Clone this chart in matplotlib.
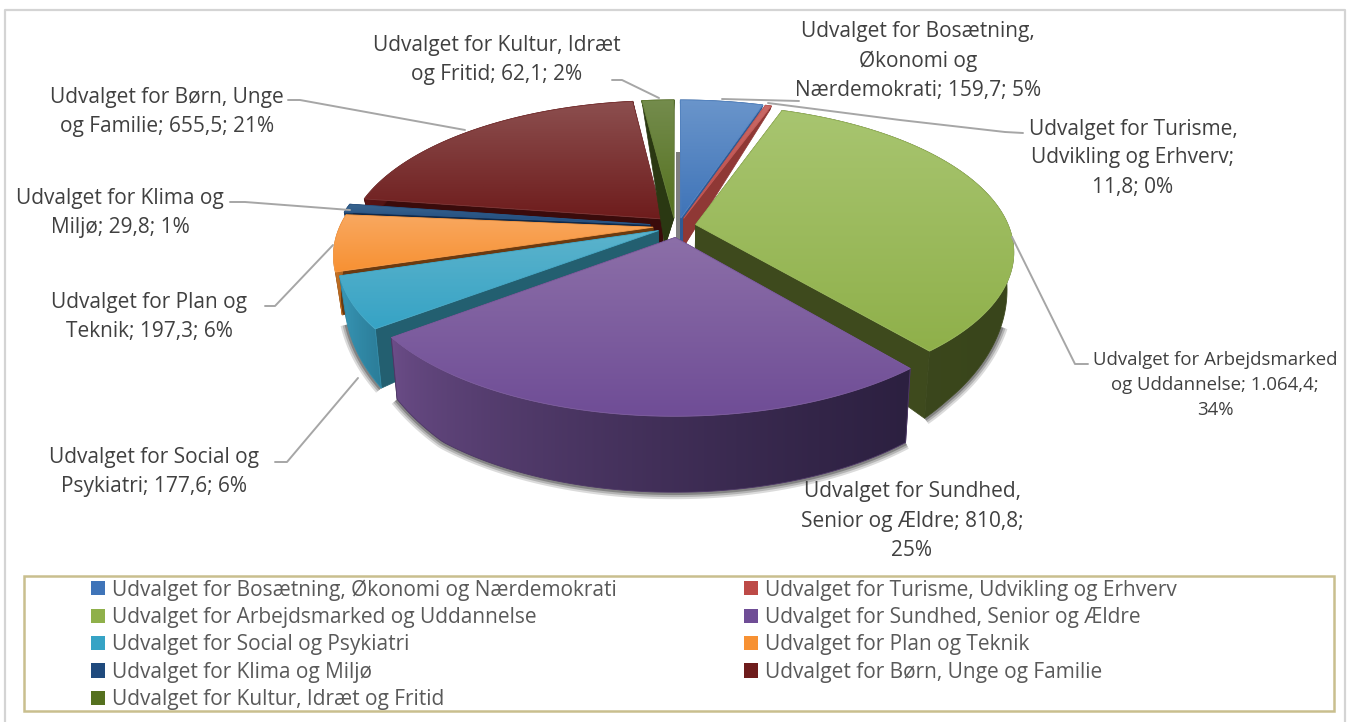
import numpy as np
import matplotlib
matplotlib.use("Agg")
import matplotlib.pyplot as plt
from matplotlib.patches import Polygon, Rectangle, Patch
from matplotlib.colors import to_rgb

names = ["Udvalget for Bosætning, Økonomi og Nærdemokrati",
         "Udvalget for Turisme, Udvikling og Erhverv",
         "Udvalget for Arbejdsmarked og Uddannelse",
         "Udvalget for Sundhed, Senior og Ældre",
         "Udvalget for Social og Psykiatri",
         "Udvalget for Plan og Teknik",
         "Udvalget for Klima og Miljø",
         "Udvalget for Børn, Unge og Familie",
         "Udvalget for Kultur, Idræt og Fritid"]
values = [159.7, 11.8, 1064.4, 810.8, 177.6, 197.3, 29.8, 655.5, 62.1]
value_labels = ["159,7", "11,8", "1.064,4", "810,8", "177,6", "197,3", "29,8", "655,5", "62,1"]
pct_labels = ["5%", "0%", "34%", "25%", "6%", "6%", "1%", "21%", "2%"]
label_templates = ["Udvalget for Bosætning,\nØkonomi og\nNærdemokrati; {v}; {p}",
                   "Udvalget for Turisme,\nUdvikling og Erhverv;\n{v}; {p}",
                   "Udvalget for Arbejdsmarked\nog Uddannelse; {v};\n{p}",
                   "Udvalget for Sundhed,\nSenior og Ældre; {v};\n{p}",
                   "Udvalget for Social og\nPsykiatri; {v}; {p}",
                   "Udvalget for Plan og\nTeknik; {v}; {p}",
                   "Udvalget for Klima og\nMiljø; {v}; {p}",
                   "Udvalget for Børn, Unge\nog Familie; {v}; {p}",
                   "Udvalget for Kultur, Idræt\nog Fritid; {v}; {p}"]

explode = [0.057, 0.057, 0.057, 0.08, 0.07, 0.08, 0.09, 0.07, 0.057]
nudge_x = [0, 0, 0, 0, 0, 0, 0, 0, -3]
apex_foot_dx = [0, 0, 0, 0, 0, 0, 0, 0, -9]
top_light = ["#6a95cb", "#c96a67", "#a8c570", "#8c6fa8", "#5cb3cc", "#f9a860", "#3a6690", "#8c4f4f", "#748c4d"]
top_dark = ["#3f74b8", "#bd4a47", "#8fb04a", "#6f4d96", "#36a3c5", "#f79133", "#1f4a7d", "#6e1c1c", "#55711f"]
band_left = ["#3b6aa8", "#9c3d3a", "#404d20", "#6d4e8a", "#3b9cbc", "#e8852a", "#1d4470", "#5a1515", "#465e1a"]
band_right = ["#24436b", "#5f2523", "#39451b", "#2c2040", "#2b7d99", "#8a4f1a", "#12304f", "#3c0c0c", "#2c3b10"]
cut_col = ["#2f5a94", "#8f3835", "#3e4a1d", "#4a3560", "#235f70", "#6b3a10", "#10294a", "#3a0b0b", "#2a3812"]
draw_order = [7, 6, 5, 4, 8, 0, 1, 2, 3]

CX, CY, RX, RY, K = 678.0, 226.0, 313.0, 142.0, 0.18
XS = 0.98
T_KNOTS = [-1.0, 0.0, 0.5, 0.79, 1.0, 1.34]
D_KNOTS = [0.0, 30.0, 50.0, 62.0, 74.0, 76.0]

def proj(u, v, bottom=False):
    s = 1 + K * v
    x = CX + RX * u / s
    y = CY - RY * v / s
    if bottom:
        x = CX + XS * RX * u / s
        y = y + np.interp(-v / s, T_KNOTS, D_KNOTS)
    return np.column_stack([x, y])

fig = plt.figure(figsize=(13.47, 7.22), dpi=100, facecolor="white")
ax = fig.add_axes([0, 0, 1, 1])
FONT = "Open Sans"
TXT = "#404040"

def grad_fill(pts, c0, c1, horizontal, z, power=1.0):
    pts = np.asarray(pts)
    x0, y0 = pts.min(0)
    x1, y1 = pts.max(0)
    c0, c1 = np.array(to_rgb(c0)), np.array(to_rgb(c1))
    t = np.linspace(0, 1, 256) ** power
    g = c0[None, :] * (1 - t[:, None]) + c1[None, :] * t[:, None]
    img = g[None, :, :] if horizontal else g[:, None, :]
    poly = Polygon(pts, closed=True, fc="none", ec="none", transform=ax.transData)
    ax.add_patch(poly)
    im = ax.imshow(img, extent=(x0, x1, y1, y0), aspect="auto", zorder=z, interpolation="bilinear")
    im.set_clip_path(poly)
    mid = (c0 + c1) / 2
    ax.add_patch(Polygon(pts, closed=True, fc="none", ec=mid, lw=0.6, zorder=z + 0.01))

fracs = np.array(values) / sum(values)
edges = np.concatenate([[0], np.cumsum(fracs)]) * 2 * np.pi
z = 3.0

# grey sliver of shadow behind the gap at the top
ax.add_patch(Rectangle((676, 152), 4, 88, fc="#7f7f7f", ec="none", zorder=2))

for i in draw_order:
    t0, t1 = edges[i], edges[i + 1]
    tm = (t0 + t1) / 2
    ou, ov = explode[i] * np.sin(tm), explode[i] * np.cos(tm)
    th = np.linspace(t0, t1, 120)
    u, v = ou + np.sin(th), ov + np.cos(th)
    shift = np.array([nudge_x[i], 0.0])
    rim_t, rim_b = proj(u, v) + shift, proj(u, v, True) + shift
    rim_b[:, 1] = np.maximum(rim_b[:, 1], rim_t[:, 1])
    apex_t = proj(np.array([ou]), np.array([ov])) + shift
    apex_b = proj(np.array([ou]), np.array([ov]), True) + shift + [apex_foot_dx[i], 0]
    # soft shadow along the lower rim of the front slices
    if i in (2, 3, 4):
        front = v < -0.35
        for lw, a in zip([10, 7, 4], [0.14, 0.18, 0.26]):
            ax.plot(rim_b[front, 0], rim_b[front, 1], color="black", lw=lw, alpha=a,
                    solid_capstyle="butt", zorder=2)
    # cut faces
    for j in (0, -1):
        quad = np.vstack([apex_t, rim_t[j], rim_b[j], apex_b])
        ax.add_patch(Polygon(quad, fc=cut_col[i], ec=cut_col[i], lw=0.5, zorder=z))
    z += 0.1
    # outer band
    band = np.vstack([rim_t, rim_b[::-1]])
    grad_fill(band, band_left[i], band_right[i], True, z, 0.6)
    z += 0.1
    # top
    top = np.vstack([apex_t, rim_t])
    grad_fill(top, top_light[i], top_dark[i], False, z)
    z += 0.1

# frame
ax.plot([5, 5, 1345, 1345], [722, 10, 10, 722], color="#d4d4d4", lw=1.6, zorder=1)

# leaders
leaders = [[(722, 99), (799, 101)],
           [(768, 103), (900, 120), (1005, 132), (1023, 133)],
           [(1012, 237), (1075, 364), (1088, 364)],
           [(358, 378), (287, 462), (275, 462)],
           [(333, 245), (275, 306), (265, 306)],
           [(350, 210), (245, 202), (230, 202)],
           [(465, 130), (300, 100), (288, 100)],
           [(659, 98), (622, 80), (612, 80)]]
for ln in leaders:
    xs, ys = zip(*ln)
    ax.plot(xs, ys, color="#a6a6a6", lw=1.4, zorder=50, solid_capstyle="round")

# labels
label_pos = [(918, 61), (1133, 158), (1215, 385), (912, 521), (154, 472), (149, 317), (120, 213), (167, 112), (497, 60)]
label_size = [15, 15, 13.4, 15, 15, 15, 15, 15, 15]
label_ls = [1.5, 1.5, 1.52, 1.5, 1.5, 1.5, 1.5, 1.5, 1.5]
for i in range(len(values)):
    txt = label_templates[i].format(v=value_labels[i], p=pct_labels[i])
    ax.text(*label_pos[i], txt, ha="center", va="center", fontsize=label_size[i], family=FONT,
            color=TXT, linespacing=label_ls[i], zorder=60)

# legend
ax.add_patch(Rectangle((24, 576), 1310, 135, fc="white", ec="#c9bf8e", lw=1.8, zorder=40))
order = [0, 2, 4, 6, 8, 1, 3, 5, 7]
handles = [Patch(fc=top_dark[i], ec="none", label=names[i]) for i in order]
leg = ax.legend(handles=handles, ncols=2, frameon=False, loc="upper left",
                bbox_to_anchor=(87 / 1347, 1 - 575 / 722), prop={"family": FONT, "size": 15},
                labelcolor="#595959", handlelength=0.68, handleheight=0.68, handletextpad=0.33,
                labelspacing=0.305, columnspacing=6.1, borderpad=0.2, borderaxespad=0)
leg.set_zorder(45)

ax.set_xlim(0, 1347)
ax.set_ylim(722, 0)
ax.axis("off")
fig.savefig("out.png", dpi=100)
